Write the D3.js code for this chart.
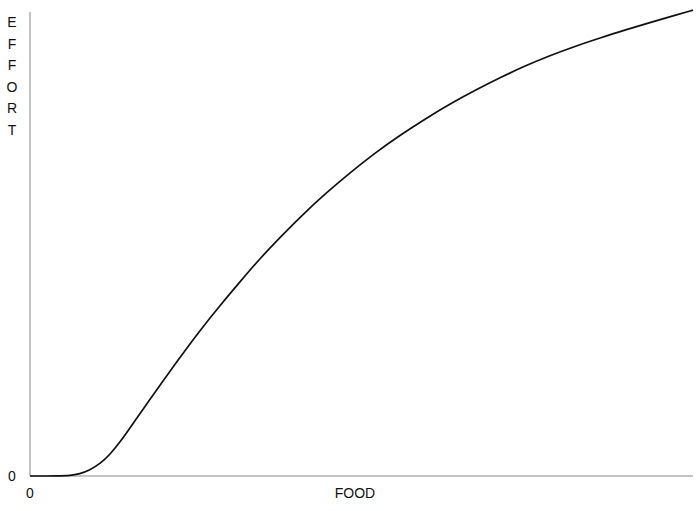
<!DOCTYPE html>
<html>
<head>
<meta charset="utf-8">
<script src="https://cdn.jsdelivr.net/npm/d3@7"></script>
<style>
  html, body { margin: 0; padding: 0; background: #fff; }
  svg { display: block; }
  text { font-family: "Liberation Sans", Arial, Helvetica, sans-serif; fill: #111; }
</style>
</head>
<body>
<svg id="chart" width="700" height="511"></svg>
<script>
// Effort spent versus food obtained (arbitrary units, 0–100 on each axis)
const food   = [0, 4.5, 6.0, 7.5, 9.0, 10.6, 12.1, 13.6, 15.1, 16.6, 18.1, 19.6, 22.6, 25.6, 28.7, 31.7, 34.7, 37.7, 40.7, 44.5, 48.3, 52.0, 55.8, 59.6, 63.3, 67.1, 70.9, 74.7, 78.4, 82.2, 86.0, 89.7, 93.5, 97.3, 100];
const effort = [0, 0, 0.09, 0.43, 1.25, 2.65, 4.7, 7.35, 10.4, 13.5, 16.5, 19.6, 25.5, 31.3, 36.8, 41.9, 46.9, 51.4, 55.75, 60.8, 65.4, 69.6, 73.45, 76.95, 80.15, 83.1, 85.85, 88.4, 90.6, 92.6, 94.4, 96.1, 97.7, 99.3, 100.4];
const xTickLabels = ["0"];
const yTickLabels = ["0"];
const xTitle = "FOOD";
const yTitle = "EFFORT";

const svg = d3.select("#chart");
const x = d3.scaleLinear().domain([0, 100]).range([30, 693]);
const y = d3.scaleLinear().domain([0, 100]).range([476, 12]);

// axes: plain thin lines
svg.append("line")
  .attr("x1", x(0)).attr("x2", x(0))
  .attr("y1", y(100)).attr("y2", y(0))
  .attr("stroke", "#888").attr("stroke-width", 1);
svg.append("line")
  .attr("x1", x(0)).attr("x2", x(100))
  .attr("y1", y(0)).attr("y2", y(0))
  .attr("stroke", "#888").attr("stroke-width", 1);

// zero labels
svg.append("text")
  .attr("x", 12).attr("y", y(0) + 5)
  .attr("text-anchor", "middle").attr("font-size", 14)
  .text(yTickLabels[0]);
svg.append("text")
  .attr("x", x(0)).attr("y", y(0) + 22)
  .attr("text-anchor", "middle").attr("font-size", 14)
  .text(xTickLabels[0]);

// axis titles
svg.append("text")
  .attr("x", 355).attr("y", 498)
  .attr("text-anchor", "middle").attr("font-size", 14)
  .text(xTitle);
svg.append("g").selectAll("text")
  .data(yTitle.split(""))
  .join("text")
  .attr("x", 12)
  .attr("y", (d, i) => 27 + i * 21.6)
  .attr("text-anchor", "middle").attr("font-size", 14)
  .text(d => d);

// effort curve
const pts = food.map((f, i) => [f, effort[i]]);
svg.append("path")
  .datum(pts)
  .attr("fill", "none")
  .attr("stroke", "#111")
  .attr("stroke-width", 1.7)
  .attr("d", d3.line().x(d => x(d[0])).y(d => y(d[1])).curve(d3.curveBasis));
</script>
</body>
</html>
